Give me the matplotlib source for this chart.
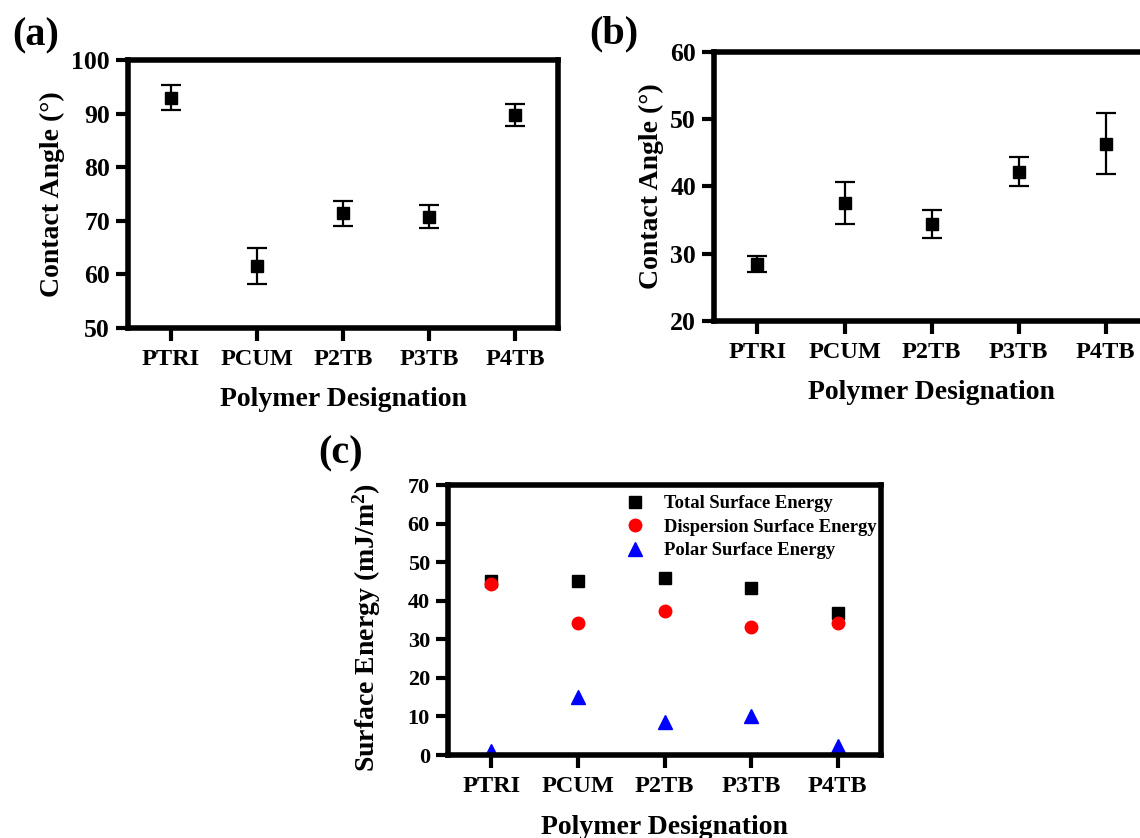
import matplotlib
matplotlib.use("Agg")
import matplotlib.pyplot as plt

# ---- data ----
polymers = ["PTRI", "PCUM", "P2TB", "P3TB", "P4TB"]

angle_a = [93.0, 61.6, 71.4, 70.8, 89.7]
err_a = [2.3, 3.3, 2.3, 2.1, 2.1]

angle_b = [28.5, 37.5, 34.4, 42.2, 46.4]
err_b = [1.2, 3.1, 2.05, 2.2, 4.5]

total_se = [45.2, 45.0, 45.9, 43.2, 36.7]
disp_se = [44.3, 34.2, 37.4, 33.3, 34.3]
polar_se = [1.0, 15.0, 8.6, 10.1, 2.4]

plt.rcParams['font.family'] = ['Liberation Serif', 'DejaVu Serif']
plt.rcParams['font.weight'] = 'bold'
plt.rcParams['axes.labelweight'] = 'bold'
plt.rcParams['mathtext.fontset'] = 'custom'
plt.rcParams['mathtext.rm'] = 'Liberation Serif:bold'
plt.rcParams['mathtext.it'] = 'Liberation Serif:bold'
plt.rcParams['mathtext.bf'] = 'Liberation Serif:bold'

W, H = 1140, 838
fig = plt.figure(figsize=(W / 100, H / 100), dpi=100)


def px_axes(l, r, t, b):
    return fig.add_axes([l / W, 1 - b / H, (r - l) / W, (b - t) / H])


def style(ax, ytick_size=18):
    for s in ax.spines.values():
        s.set_linewidth(4)
    ax.tick_params(axis='both', direction='out', length=9, width=3,
                   top=False, right=False)
    ax.tick_params(axis='x', labelsize=17.5, pad=6)
    ax.tick_params(axis='y', labelsize=ytick_size, pad=4)
    for lab in ax.get_xticklabels() + ax.get_yticklabels():
        lab.set_fontweight('bold')


x = list(range(1, len(polymers) + 1))

# ---- (a) ----
ax_a = px_axes(128, 558, 60, 328)
ax_a.errorbar(x, angle_a, yerr=err_a, fmt='s', color='black', ms=8.5,
              elinewidth=1.6, capsize=7, capthick=1.6)
ax_a.set_xlim(0.5, 5.5)
ax_a.set_ylim(50, 100)
ax_a.set_yticks([50, 60, 70, 80, 90, 100])
ax_a.set_xticks(x)
ax_a.set_xticklabels(polymers)
style(ax_a, 18.5)
ax_a.set_ylabel("Contact Angle (°)", fontsize=20, fontweight='bold')
ax_a.yaxis.set_label_coords(-0.147, 0.5)
ax_a.set_xlabel("Polymer Designation", fontsize=20, fontweight='bold')
ax_a.xaxis.set_label_coords(0.5, -0.22)
ax_a.xaxis.label.set_va('top')

# ---- (b) ----
ax_b = px_axes(714, 1149, 52.3, 320.7)
ax_b.errorbar(x, angle_b, yerr=err_b, fmt='s', color='black', ms=8.5,
              elinewidth=1.6, capsize=7, capthick=1.6)
ax_b.set_xlim(0.5, 5.5)
ax_b.set_ylim(20, 60)
ax_b.set_yticks([20, 30, 40, 50, 60])
ax_b.set_xticks(x)
ax_b.set_xticklabels(polymers)
style(ax_b, 18.5)
ax_b.set_ylabel("Contact Angle (°)", fontsize=20, fontweight='bold')
ax_b.yaxis.set_label_coords(-0.115, 0.5)
ax_b.set_xlabel("Polymer Designation", fontsize=20, fontweight='bold')
ax_b.xaxis.set_label_coords(0.5, -0.221)
ax_b.xaxis.label.set_va('top')

# ---- (c) ----
ax_c = px_axes(448, 881, 485, 755)
ax_c.plot(x, total_se, 's', color='black', ms=8, label='Total Surface Energy')
ax_c.plot(x, disp_se, 'o', color='red', ms=9, label='Dispersion Surface Energy')
ax_c.plot(x, polar_se, '^', color='blue', ms=9.5, label='Polar Surface Energy')
ax_c.set_xlim(0.5, 5.5)
ax_c.set_ylim(0, 70)
ax_c.set_yticks([0, 10, 20, 30, 40, 50, 60, 70])
ax_c.set_xticks(x)
ax_c.set_xticklabels(polymers)
style(ax_c, 16)
ax_c.set_ylabel("Surface Energy (mJ/m$^{2}$)", fontsize=20, fontweight='bold')
ax_c.yaxis.set_label_coords(-0.15, 0.472)
ax_c.set_xlabel("Polymer Designation", fontsize=20, fontweight='bold')
ax_c.xaxis.set_label_coords(0.5, -0.222)
ax_c.xaxis.label.set_va('top')
leg = ax_c.legend(loc='upper left', bbox_to_anchor=((624 - 448) / 433, 1 - (495 - 485) / 270),
                  frameon=False, prop={'family': 'Liberation Serif', 'weight': 'bold', 'size': 13.4},
                  handletextpad=0.95, labelspacing=0.35, handlelength=1.2, borderaxespad=0.0,
                  borderpad=0.0)

# ---- panel labels ----
fig.text(12 / W, 1 - 35.5 / H, "(a)", fontsize=29, fontweight='bold', ha='left', va='center')
fig.text(589 / W, 1 - 34 / H, "(b)", fontsize=29, fontweight='bold', ha='left', va='center')
fig.text(318 / W, 1 - 454 / H, "(c)", fontsize=29, fontweight='bold', ha='left', va='center')

fig.savefig("out.png", dpi=100)
